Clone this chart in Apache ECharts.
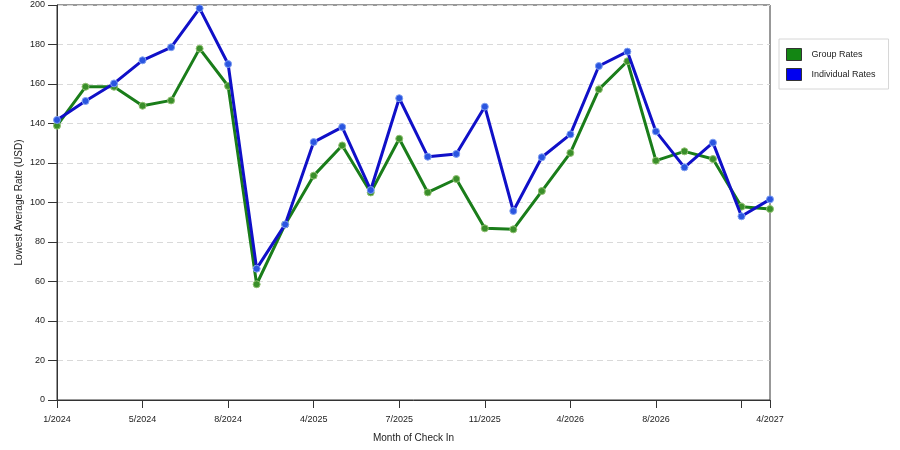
<!DOCTYPE html>
<html>
<head>
<meta charset="utf-8">
<script src="https://cdn.jsdelivr.net/npm/echarts@6/dist/echarts.min.js"></script>
<style>
  html, body { margin: 0; padding: 0; background: #fff; }
  #chart { width: 900px; height: 450px; }
</style>
</head>
<body>
<div id="chart"></div>
<script>
const months = [
  '1/2024', '3/2024', '4/2024', '5/2024', '6/2024', '7/2024', '8/2024', '9/2024',
  '3/2025', '4/2025', '5/2025', '6/2025', '7/2025', '8/2025', '9/2025', '11/2025',
  '12/2025', '3/2026', '4/2026', '5/2026', '6/2026', '8/2026', '9/2026', '10/2026',
  '11/2026', '4/2027'
];
const groupRates = [
  138.9, 158.6, 158.6, 149.0, 151.7, 177.9, 159.0, 58.6, 88.9, 113.6, 128.9, 105.1, 132.3,
  105.1, 111.9, 86.9, 86.4, 105.8, 125.1, 157.3, 171.5, 121.2, 125.9, 122.0, 97.9, 96.7
];
const individualRates = [
  141.8, 151.4, 160.3, 172.0, 178.6, 198.3, 170.1, 66.5, 88.9, 130.6, 138.2, 106.3, 152.8,
  123.2, 124.6, 148.5, 95.7, 122.9, 134.5, 169.1, 176.4, 136.0, 117.8, 130.3, 93.0, 101.6
];

const font = 'Liberation Sans, Arial, sans-serif';
const last = months.length - 1;

const chart = echarts.init(document.getElementById('chart'));

chart.setOption({
  animation: false,
  textStyle: { fontFamily: font },
  grid: {
    left: 57, right: 130, top: 5, bottom: 50,
    show: true, borderColor: '#333', borderWidth: 1
  },
  legend: {
    orient: 'vertical',
    left: 779, top: 39,
    padding: [9, 13, 8, 7],
    itemGap: 7,
    itemWidth: 15, itemHeight: 12,
    icon: 'rect',
    borderColor: '#d6d6d6', borderWidth: 1,
    textStyle: { fontSize: 9, color: '#222', fontFamily: font, padding: [0, 0, 0, 5] },
    data: [
      { name: 'Group Rates', itemStyle: { color: '#138613', borderColor: '#333', borderWidth: 1 } },
      { name: 'Individual Rates', itemStyle: { color: '#0000f0', borderColor: '#333', borderWidth: 1 } }
    ]
  },
  xAxis: {
    type: 'category',
    data: months,
    boundaryGap: false,
    name: 'Month of Check In',
    nameLocation: 'middle',
    nameGap: 33,
    nameTextStyle: { fontSize: 10, color: '#222' },
    axisLine: { lineStyle: { color: '#333' } },
    axisTick: {
      length: 8,
      lineStyle: { color: '#333' },
      interval: (i) => i % 3 === 0 || i === last
    },
    axisLabel: {
      fontSize: 9, color: '#222', margin: 15,
      interval: (i) => (i % 3 === 0 && i !== last - 1) || i === last
    },
    splitLine: { show: false }
  },
  yAxis: {
    type: 'value',
    min: 0, max: 200, interval: 20,
    name: 'Lowest Average Rate (USD)',
    nameLocation: 'middle',
    nameGap: 33,
    nameMoveOverlap: false,
    nameTextStyle: { fontSize: 10, color: '#222' },
    axisLine: { show: true, lineStyle: { color: '#333' } },
    axisTick: { show: true, inside: false, length: 9, lineStyle: { color: '#333' } },
    axisLabel: { fontSize: 9, color: '#222', margin: 12 },
    splitLine: { lineStyle: { color: '#d9d9d9', type: [6, 4] } }
  },
  series: [
    {
      name: 'Group Rates',
      type: 'line',
      data: groupRates,
      symbol: 'circle',
      symbolSize: 7,
      lineStyle: { color: '#1a7d1a', width: 3 },
      itemStyle: { color: '#3a8f2a', borderColor: '#8fbf70', borderWidth: 1 },
      z: 2
    },
    {
      name: 'Individual Rates',
      type: 'line',
      data: individualRates,
      symbol: 'circle',
      symbolSize: 7,
      lineStyle: { color: '#1010c8', width: 3 },
      itemStyle: { color: '#2a55e0', borderColor: '#7f9ff0', borderWidth: 1 },
      z: 3
    }
  ]
});
</script>
</body>
</html>
